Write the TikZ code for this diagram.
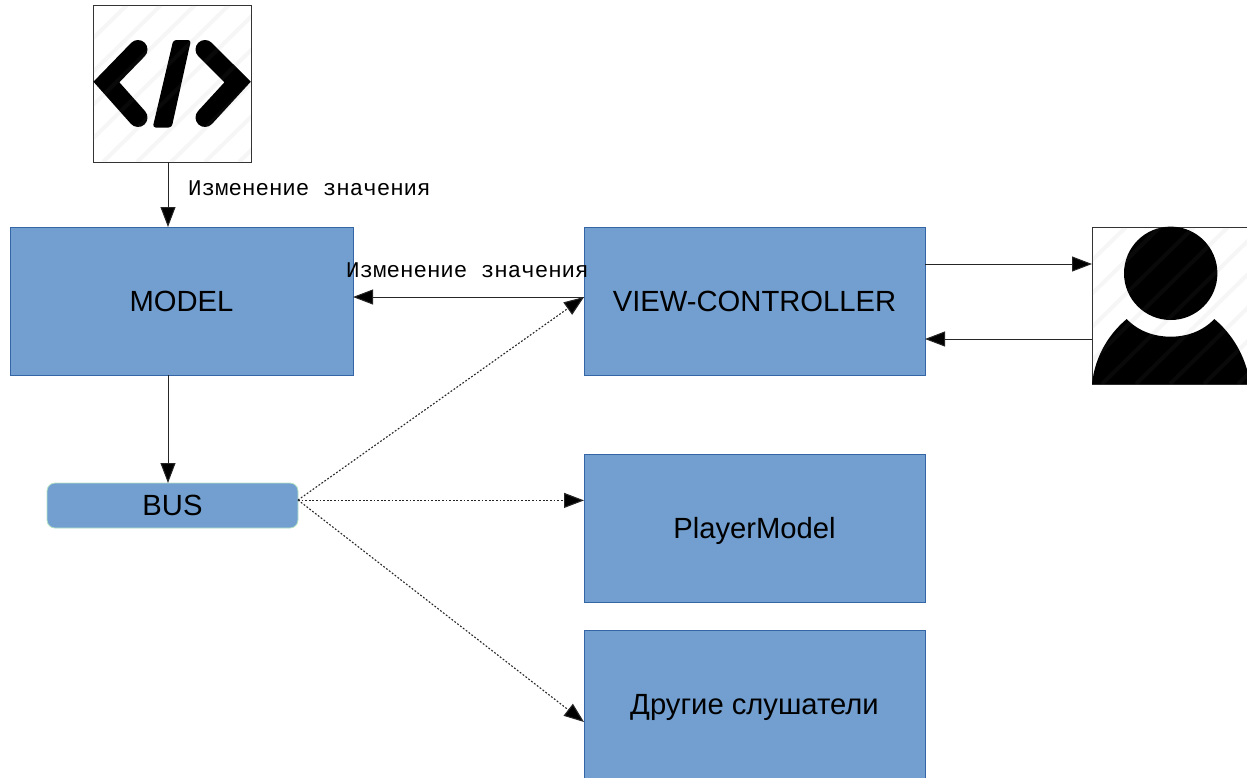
\documentclass[tikz,border=0pt]{standalone}
\usepackage{fontspec}
\setmainfont{Liberation Sans}
\newfontfamily\labelmono{Liberation Mono}
\usetikzlibrary{arrows.meta,calc}
\definecolor{boxfill}{HTML}{729FCF}
\definecolor{boxline}{HTML}{3465A4}
\definecolor{busline}{HTML}{B4E3C4}
\tikzset{
  bluebox/.style={draw=boxline,fill=boxfill,line width=0.8pt,anchor=north west,inner sep=0pt,outer sep=0pt,text=black,text height=20pt,text depth=0pt,font=\fontsize{29.2}{32}\selectfont},
  busbox/.style={bluebox,draw=busline,rounded corners=8pt},
  iconbox/.style={draw=black!80,fill=white,line width=1pt,anchor=north west,inner sep=0pt,outer sep=0pt},
  link/.style={draw=black!85,line width=1pt,-{Triangle[length=20pt,width=15pt,fill=black]}},
  dotlink/.style={link,line width=1.1pt,dash pattern=on 1.8pt off 1.8pt},
  note/.style={font=\labelmono\fontsize{22.45}{25}\selectfont,anchor=west,inner sep=0pt},
  stripe/.style={draw=gray,opacity=0.07,line width=4pt}
}
\begin{document}
\begin{tikzpicture}[x=1pt,y=-1pt]
\clip (0,0) rectangle (1247,777);
% icons
\node[iconbox,minimum width=158pt,minimum height=157pt] (code) at (93,5) {};
\node[iconbox,minimum width=158pt,minimum height=157pt] (user) at (1092,227) {};
\fill[black,rounded corners=3pt] (173.3,40) -- (191,40) -- (171.7,127.5) -- (152.7,127.5) -- cycle;
\draw[black,line width=19pt,line cap=round,miter limit=10] (138,49.5) -- (106.4,82) -- (138,117.5);
\draw[black,line width=19pt,line cap=round,miter limit=10] (205,49.5) -- (237.6,82) -- (205,117.5);
\fill[black] (1170.7,273.3) circle[radius=46.7];
\fill[black] (1092,384) .. controls (1095,355) and (1110,333) .. (1126.7,319)
  .. controls (1138,331) and (1154,336.7) .. (1170.7,336.7)
  .. controls (1187,336.7) and (1203,331) .. (1214.3,319)
  .. controls (1231,333) and (1246,355) .. (1250,384) -- cycle;
\begin{scope}
\clip (93,5) rectangle (251,162);
\foreach \s in {0,34,...,340} \draw[stripe] (93+\s-160,162) -- (93+\s,5);
\end{scope}
\begin{scope}
\clip (1092,227) rectangle (1250,384);
\foreach \s in {0,34,...,340} \draw[stripe] (1092+\s-160,384) -- (1092+\s,227);
\end{scope}
% boxes
\node[bluebox,minimum width=343pt,minimum height=148pt] (model) at (10,227) {MODEL};
\node[bluebox,minimum width=341pt,minimum height=148pt] (view) at (584,227) {VIEW-CONTROLLER};
\node[bluebox,minimum width=341pt,minimum height=148pt] (player) at (584,454) {PlayerModel};
\node[bluebox,minimum width=341pt,minimum height=149pt] (others) at (584,630) {Другие слушатели};
\node[busbox,minimum width=251pt,minimum height=45pt] (bus) at (47,483) {BUS};
% labels
\node[note] (note1) at (188,188) {Изменение значения};
\node[note] (note2) at (346,270) {Изменение значения};
% connectors
\draw[link] (code.south -| 168,0) -- (model.north -| 168,0);
\draw[link] (model.south -| 168,0) -- (bus.north -| 168,0);
\draw[link] (view.west |- 0,297) -- (model.east |- 0,297);
\draw[link] (view.east |- 0,264) -- (user.west |- 0,264);
\draw[link] (user.west |- 0,339) -- (view.east |- 0,339);
\draw[dotlink] (bus.east |- 0,500) -- (view.west |- 0,297);
\draw[dotlink] (bus.east |- 0,500.4) -- (player.west |- 0,500.4);
\draw[dotlink] (bus.east |- 0,500) -- (others.west |- 0,722);
\end{tikzpicture}
\end{document}
